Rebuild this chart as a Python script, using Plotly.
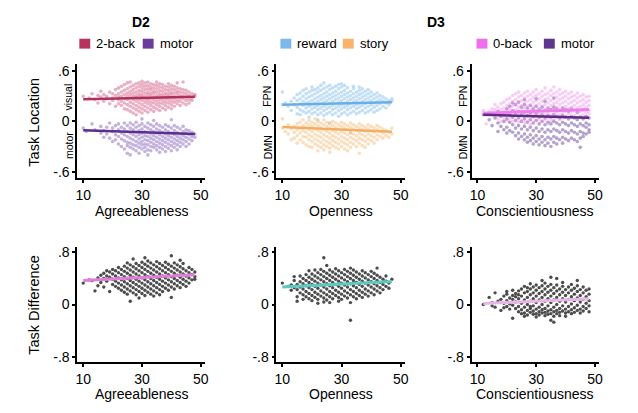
import plotly.graph_objects as go

# page body adds an 8px margin, so the figure is drawn 8px in from the window edge
OFF = 8
W, H = 630, 405

# ---------------- data (x = trait score, values in hundredths) ----------------
agree_2back = {10:[30],12:[28],13:[33],14:[26],15:[31,22],16:[29,36],17:[24,32],18:[30,27],19:[35,21],
    20:[28,33,25],21:[31,18,38],22:[26,33,21,29,40],23:[24,30,35,19,42],24:[27,32,22,37,15,44],
    25:[20,26,30,34,39,14,46],26:[18,23,28,32,36,41,12,47],27:[16,21,26,30,34,38,43,10],
    28:[19,24,28,31,35,40,45,14,8],29:[17,22,26,30,33,37,42,46,12],30:[15,20,25,29,32,36,40,44,10,48],
    31:[18,23,27,30,34,38,42,13,46],32:[16,21,25,28,32,35,39,43,11,47],33:[19,23,27,31,34,38,41,14,45],
    34:[17,22,26,29,33,36,40,44,12],35:[20,24,28,31,35,39,43,15,47],36:[18,22,26,30,33,37,41,13,45],
    37:[21,25,29,32,36,40,16,44],38:[19,23,27,31,34,38,42,14],39:[22,26,30,33,37,41,17,45],
    40:[20,24,28,32,35,39,15,43],41:[23,27,30,34,38,18,42],42:[21,25,29,33,36,40,46],
    43:[24,28,31,35,39,19],44:[22,27,30,34,38,47],45:[25,29,33,37,20],46:[26,31,35,22],
    47:[28,33,25],48:[30,32]}
agree_motor = {10:[-8],11:[-12],13:[-3],14:[-10],16:[-14,-6],17:[-11,-19],18:[-7,-15],19:[-20,-2],
    20:[-12,-24,-8],21:[-16,-5,-22],22:[-10,-18,-27,-3],23:[-14,-21,-7,-30],24:[-9,-16,-23,-2,-33],
    25:[-12,-18,-25,-5,-29,-38],26:[-8,-14,-20,-26,-31,-2,-40],27:[-10,-16,-22,-28,-4,-33],
    28:[-7,-13,-18,-24,-29,-1,-35],29:[-11,-16,-21,-26,-31,-5,-38],30:[-9,-14,-19,-24,-28,-33,-3,3],
    31:[-12,-17,-22,-27,-31,-6,-36],32:[-8,-13,-18,-23,-28,-2,-34,-40],33:[-10,-15,-20,-25,-30,-4,-35],
    34:[-12,-17,-22,-27,-31,-6,1],35:[-9,-14,-19,-24,-29,-3,-34],36:[-11,-16,-21,-26,-31,-5,-37],
    37:[-13,-18,-23,-28,-7,-33],38:[-10,-15,-20,-25,-30,-4,-36],39:[-12,-17,-22,-27,-32,-6],
    40:[-14,-19,-24,-29,-8,-35,2],41:[-11,-16,-21,-26,-31,-5],42:[-13,-18,-23,-28,-7,-34],
    43:[-15,-20,-25,-9,-30],44:[-12,-17,-22,-27,-6],45:[-14,-19,-24,-10,-30],46:[-16,-21,-11,-27],
    47:[-13,-18,-23],48:[-15,-19]}
open_reward = {10:[35,20],11:[22],12:[18],13:[24,13],14:[20,28],15:[17,25,32,9],16:[21,27,14,34,8],
    17:[19,24,30,12,37],18:[16,22,27,33,10,39],19:[18,23,29,35,12,5],20:[15,20,25,31,37,9,41],
    21:[17,22,27,33,11,38],22:[14,19,24,29,35,8,40,2],23:[16,21,26,31,37,10,43],
    24:[13,18,23,28,33,39,7,46],25:[15,20,25,30,35,9,41],26:[17,22,27,32,38,11,43,-2],
    27:[14,19,24,29,34,40,8],28:[16,21,26,31,36,10,42],29:[13,18,23,28,33,39,6,44],
    30:[15,20,25,30,35,41,9,45],31:[17,22,27,32,37,11,43],32:[14,19,24,29,34,40,8],
    33:[16,21,26,31,36,10,-14],34:[18,23,28,33,39,12,42],35:[15,20,25,30,35,9],
    36:[17,22,27,32,37,11,41],37:[19,24,29,34,13,39],38:[16,21,26,31,36,10],39:[18,23,28,33,12,38],
    40:[20,25,30,14,35],41:[17,22,27,32,11],42:[19,24,29,34,13],43:[21,26,31,15],44:[18,24,29],
    45:[22,27,16],46:[20,25],47:[24,27]}
open_story = {10:[3,-8],11:[-12],12:[-4,-15],13:[-9,-22],14:[-6,-13,-20],15:[-3,-10,-17,-26],
    16:[-8,-14,-1,-22],17:[-5,-11,-18,-25,2],18:[-7,-13,-19,-2,-28],19:[-4,-10,-16,-22,1,-30],
    20:[-6,-12,-18,-24,-1,-31],21:[-3,-9,-15,-21,-27,3],22:[-5,-11,-17,-23,0,-29,-35],
    23:[-7,-13,-19,-25,-2,-31],24:[-4,-10,-16,-22,-28,2,-34],25:[-6,-12,-18,-24,-1,-30],
    26:[-8,-14,-20,-26,-3,-32,-37],27:[-5,-11,-17,-23,0,-29],28:[-7,-13,-19,-25,-2,-31],
    29:[-9,-15,-21,-27,-4,-33],30:[-6,-12,-18,-24,-1,-30],31:[-8,-14,-20,-26,-3,-33],
    32:[-10,-16,-22,-28,-5,-35],33:[-7,-13,-19,-25,-2,-31],34:[-9,-15,-21,-27,-4],
    35:[-11,-17,-23,-6,-30],36:[-8,-14,-20,-26,-3,-38],37:[-10,-16,-22,-5,-29],
    38:[-12,-18,-24,-7,-31],39:[-9,-15,-21,-4,-27],40:[-11,-17,-23,-6],41:[-13,-19,-8,-26],
    42:[-10,-16,-22,-5],43:[-12,-18,-7],44:[-14,-20,-9],45:[-11,-17],46:[-13,-19],47:[-15,-8]}
consc_0back = {12:[10,13],13:[8,-3],14:[12],15:[9,15],16:[6,14,20],17:[11,17,3],18:[8,14,21,0],
    19:[10,16,23,4],20:[7,13,19,26,1],21:[9,15,21,28,3],22:[6,12,18,24,31,0],23:[8,14,20,26,33,2],
    24:[5,11,17,23,29,-1,35],25:[7,13,19,25,31,1],26:[4,10,16,22,28,34,-2],27:[6,12,18,24,30,0,36],
    28:[8,14,20,26,32,2,-4],29:[5,11,17,23,29,35,-1],30:[7,13,19,25,31,1,38],31:[9,15,21,27,33,3],
    32:[6,12,18,24,30,36,0],33:[8,14,20,26,32,2,40],34:[10,16,22,28,34,4,-3],
    35:[7,13,19,25,31,37,1],36:[9,15,21,27,33,3,41],37:[11,17,23,29,35,5],38:[8,14,20,26,32,2,38],
    39:[10,16,22,28,34,4],40:[12,18,24,30,6,36],41:[9,15,21,27,33,3],42:[11,17,23,29,5,35],
    43:[13,19,25,31,7],44:[10,16,22,28,4,34],45:[12,18,24,30,6],46:[14,20,26,8,32],
    47:[11,17,23,5,29],48:[13,19,25,9,30]}
consc_motor = {12:[8],14:[2],15:[-5,10],16:[4],17:[-2,12,-12],18:[6,-6],19:[0,11,-10],20:[3,-7,15,-14],
    21:[-1,8,-11,18],22:[5,-4,-13,13,22],23:[1,-8,10,-17,20],24:[4,-5,-14,12,-21,23],25:[0,-9,8,-18,17],
    26:[3,-6,-15,11,-22,20,26],27:[-1,-10,7,-19,16,-25],28:[2,-7,10,-16,19,-23],
    29:[-2,-11,6,-20,15,-27],30:[1,-8,9,-17,18,-24,27],31:[-3,-12,5,-21,14,-28],
    32:[0,-9,8,-18,17,-25],33:[-4,-13,4,-22,13,-29,24],34:[-1,-10,7,-19,16,-26],
    35:[-3,-12,5,-21,14,-30],36:[0,-9,8,-18,17,-25,28],37:[-2,-11,6,-20,15,-27],
    38:[-4,-13,4,-22,13],39:[-1,-10,7,-19,16,-26],40:[-3,-12,5,-21,14],41:[-5,-14,3,-23,12],
    42:[-2,-11,6,-20,15],43:[-4,-13,4,-22],44:[-6,-15,2,-24,11],45:[-3,-12,5,-20,-31],
    46:[-5,-14,3,-18],47:[-7,-2,6,-15],48:[-4,-10,4,-13]}
agree_diff = {10:[33],12:[38],13:[37],14:[21],15:[41,29],16:[45,34],17:[48,40,27],18:[52,44,36],
    19:[50,42,20],20:[47,39,31,54],21:[44,36,52,28],22:[41,33,49,25,57],23:[46,38,30,54,22],
    24:[43,35,51,27,59,19],25:[40,32,48,24,56,16,64],26:[45,37,29,53,21,61,5],
    27:[42,34,50,26,58,18,70],28:[47,39,31,55,23,63,15],29:[44,36,52,28,60,20,10],
    30:[41,33,49,25,57,17,65],31:[46,38,30,54,22,62,14,72],32:[43,35,51,27,59,19,67],
    33:[48,40,32,56,24,64,16],34:[45,37,29,53,21,61,13],35:[42,34,50,26,58,18,66],
    36:[47,39,31,55,23,63,15],37:[44,36,52,28,60,20],38:[49,41,33,57,25,65],39:[46,38,30,54,22,62],
    40:[43,35,51,27,59,11,75],41:[48,40,32,56,24,64],42:[45,37,53,29,61],43:[50,42,34,58,26,68],
    44:[47,39,55,31,63],45:[44,36,52,28],46:[49,41,57,33],47:[46,38,54],48:[43,50,39]}
open_diff = {10:[33],12:[28],13:[30,22],14:[26,37,43],15:[23,31,12,5],16:[27,35,18,44],
    17:[24,32,15,40,8],18:[29,37,20,46,12],19:[26,34,17,42,9,52],20:[23,31,14,39,47,6],
    21:[28,36,19,44,11,53],22:[25,33,16,41,8,49,2],23:[30,38,21,46,13,54],24:[27,35,18,43,10,51,4,72],
    25:[24,32,15,40,48,7,60],26:[29,37,20,45,12,53,3],27:[26,34,17,42,9,50],28:[31,39,22,47,14,55],
    29:[28,36,19,44,11,52,5],30:[25,33,16,41,49,8],31:[30,38,21,46,13,54],32:[27,35,18,43,10,51],
    33:[32,40,23,48,15,56,-24,3],34:[29,37,20,45,12,53],35:[26,34,17,42,50,9],36:[31,39,22,47,14],
    37:[28,36,19,44,11,52],38:[33,41,24,49,16],39:[30,38,21,46,13],40:[35,27,43,18,51],
    41:[32,40,24,48,15],42:[29,37,45,21,56],43:[34,26,42,18],44:[31,39,23],45:[36,28,44],
    46:[33,25],47:[39]}
consc_diff = {12:[0],14:[11],15:[3,-2],16:[18,-4],17:[5],18:[-9,8],19:[13,2,-5],20:[6,16,-3,20],
    21:[-7,10,1],22:[14,-1,-21,8,22],23:[4,-6,17,12],24:[9,-3,15,-11,21],25:[2,-8,13,24,-14],
    26:[7,-4,18,-13,28,-18],27:[11,0,-9,20,-16,26],28:[5,-6,15,-12,24,-3,32],29:[9,-2,18,-10,27,-15],
    30:[3,-7,13,-14,22,30,-19],31:[7,-4,17,-11,26,-16],32:[11,0,20,-8,29,-13,37],
    33:[5,-6,15,-12,24,-17,33],34:[9,-2,19,-10,28,-15],35:[3,-8,13,-14,22,31,-24,42],
    36:[7,-4,17,-11,26,-18,-27],37:[11,0,21,-9,30,-14,40],38:[5,-6,15,-12,24,-17],
    39:[9,-2,19,-10,28,34],40:[4,-7,14,-13,23,-18],41:[8,-3,18,-11,27],42:[12,1,22,-8,31,-14],
    43:[6,-5,16,-12,25],44:[10,-1,20,-9,29,37],45:[4,-7,14,-13,23],46:[8,-3,18,-10,27],
    47:[12,2,22,-6],48:[6,-2,16,-11,24]}

# fitted regression lines (end points)
fit_agree_2back = ([10, 48], [0.265, 0.295])
fit_agree_motor = ([10, 48], [-0.105, -0.15])
fit_open_reward = ([10, 47], [0.20, 0.23])
fit_open_story = ([10, 47], [-0.066, -0.125])
fit_consc_0back = ([12, 48], [0.097, 0.143])
fit_consc_motor = ([12, 48], [0.078, 0.043])
fit_agree_diff = ([10, 48], [0.37, 0.457])
fit_open_diff = ([10, 47], [0.27, 0.355])
fit_consc_diff = ([12, 48], [0.015, 0.09])

x_labels = ["Agreeableness", "Openness", "Conscientiousness"]
top_ticks = [-0.6, 0, 0.6]
top_ticktext = ["-.6", "0", ".6"]
bot_ticks = [-0.8, 0, 0.8]
bot_ticktext = ["-.8", "0", ".8"]
x_ticks = [10, 30, 50]


def expand(d):
    xs, ys = [], []
    for x, vals in d.items():
        for v in vals:
            xs.append(x)
            ys.append(v / 100)
    return xs, ys


FONT = "Liberation Sans, Arial, Helvetica, sans-serif"
fig = go.Figure()


def px(x):
    return (x - OFF) / W


def py(y):
    return 1 - (y - OFF) / H


panels = [
    (1, [(agree_2back, "#d5628a", 0.5), (agree_motor, "#8a68bd", 0.5)],
        [(fit_agree_2back, "#b0305a", 2.5), (fit_agree_motor, "#5b2d8e", 2.5)], 3.6),
    (2, [(open_reward, "#86bfec", 0.5), (open_story, "#f8bd78", 0.5)],
        [(fit_open_reward, "#6aaee6", 2.5), (fit_open_story, "#f4ad62", 2.5)], 3.6),
    (3, [(consc_motor, "#7656a6", 0.55), (consc_0back, "#f290ee", 0.45)],
        [(fit_consc_0back, "#f07cee", 3), (fit_consc_motor, "#5a2d82", 2.5)], 3.6),
    (4, [(agree_diff, "#3a3a3a", 0.9)], [(fit_agree_diff, "#e27cdb", 3)], 3.4),
    (5, [(open_diff, "#3a3a3a", 0.9)], [(fit_open_diff, "#5ccbbf", 3)], 3.4),
    (6, [(consc_diff, "#3a3a3a", 0.9)], [(fit_consc_diff, "#e8b6e6", 3)], 3.4),
]

for idx, pts, fits, msize in panels:
    xa = "x" if idx == 1 else f"x{idx}"
    ya = "y" if idx == 1 else f"y{idx}"
    for d, col, op in pts:
        xs, ys = expand(d)
        fig.add_trace(go.Scatter(x=xs, y=ys, mode="markers", xaxis=xa, yaxis=ya,
                                 marker=dict(size=msize, color=col, opacity=op, line=dict(width=0)),
                                 showlegend=False, hoverinfo="skip"))
    for (fx, fy), col, w in fits:
        fig.add_trace(go.Scatter(x=fx, y=fy, mode="lines", xaxis=xa, yaxis=ya,
                                 line=dict(color=col, width=w), showlegend=False, hoverinfo="skip"))

# panel pixel boxes (window pixel coordinates)
col_x = [(76, 205), (277, 407), (474, 603)]
row_y = [(63, 178), (247, 364)]

layout = dict(width=W, height=H, margin=dict(l=0, r=0, t=0, b=0),
              paper_bgcolor="white", plot_bgcolor="white",
              font=dict(family=FONT, size=14, color="black"))

axis_common = dict(showline=True, linecolor="black", linewidth=1.8, ticks="outside",
                   ticklen=3, tickwidth=1.5, tickcolor="black", showgrid=False, zeroline=False,
                   tickfont=dict(family=FONT, size=14, color="black"))

for r in range(2):
    for c in range(3):
        idx = r * 3 + c + 1
        xk = "xaxis" if idx == 1 else f"xaxis{idx}"
        yk = "yaxis" if idx == 1 else f"yaxis{idx}"
        yname = "y" if idx == 1 else f"y{idx}"
        xname = "x" if idx == 1 else f"x{idx}"
        x0, x1 = col_x[c]
        y0, y1 = row_y[r]
        layout[xk] = dict(axis_common, domain=[px(x0), px(x1)], anchor=yname,
                          range=[8, 51.5], tickvals=x_ticks)
        if r == 0:
            yr, tv, tt = [-0.68, 0.68], top_ticks, top_ticktext
        else:
            yr, tv, tt = [-0.89, 0.89], bot_ticks, bot_ticktext
        layout[yk] = dict(axis_common, domain=[py(y1), py(y0)], anchor=xname,
                          range=yr, tickvals=tv, ticktext=tt)

fig.update_layout(**layout)

ann = []
shapes = []


def text(x, y, s, size=14, bold=False, angle=0, xanchor="center"):
    ann.append(dict(x=px(x), y=py(y), xref="paper", yref="paper", text=f"<b>{s}</b>" if bold else s,
                    showarrow=False, textangle=angle, xanchor=xanchor, yanchor="middle",
                    font=dict(family=FONT, size=size, color="black")))


# titles
text(140, 20, "D2", size=14, bold=True)
text(438, 20, "D3", size=14, bold=True)

# x axis titles
for c, lab in enumerate(x_labels):
    cx = (col_x[c][0] + col_x[c][1]) / 2
    text(cx, 211, lab, size=14)
    text(cx, 396, lab, size=14)

# y axis titles
text(32, 121, "Task Location", size=14.5, angle=-90)
text(32, 306, "Task Difference", size=14.5, angle=-90)

# inner network labels
text(67, 96, "visual", size=10.5, angle=-90)
text(67, 145, "motor", size=10.5, angle=-90)
text(268, 95, "FPN", size=10.5, angle=-90)
text(268, 147, "DMN", size=10.5, angle=-90)
text(465, 95, "FPN", size=10.5, angle=-90)
text(465, 147, "DMN", size=10.5, angle=-90)

# legends: (box x0, label, color)
legend_items = [
    (78, "2-back", "#b8325e"), (142, "motor", "#6b3d9a"),
    (281, "reward", "#7ab9ea"), (344, "story", "#f9b36a"),
    (479, "0-back", "#ef6fea"), (547, "motor", "#5f3590"),
]
for bx, lab, colr in legend_items:
    shapes.append(dict(type="rect", xref="paper", yref="paper", x0=px(bx), x1=px(bx + 11),
                       y0=py(47), y1=py(37), fillcolor=colr, line=dict(width=0)))
    text(bx + 15, 42, lab, size=13, xanchor="left")

fig.update_layout(annotations=ann, shapes=shapes)
fig.write_html("out.html")
